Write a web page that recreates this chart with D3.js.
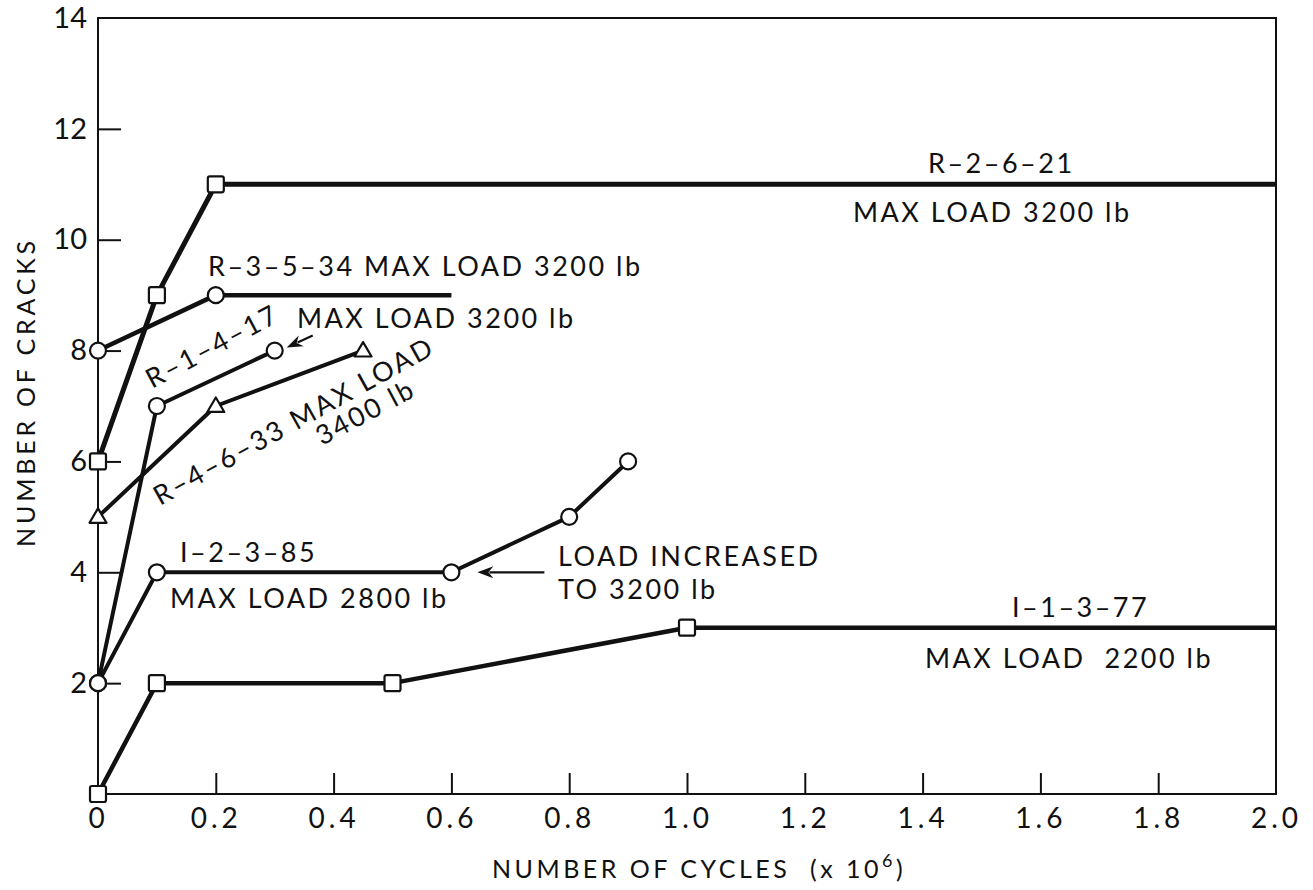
<!DOCTYPE html>
<html>
<head>
<meta charset="utf-8">
<script src="https://cdn.jsdelivr.net/npm/d3@7"></script>
<style>
  html, body { margin: 0; padding: 0; background: #fff; }
  svg { display: block; }
  text { font-family: Lato, "Noto Sans", sans-serif; fill: #111; }
</style>
</head>
<body>
<svg id="chart" width="1313" height="890"></svg>
<script>
// Crack counts against load cycles (millions) for six specimens.
const xTicks = [0, 0.2, 0.4, 0.6, 0.8, 1.0, 1.2, 1.4, 1.6, 1.8, 2.0];
const yTicks = [2, 4, 6, 8, 10, 12, 14];

// R-2-6-21, square markers; the run continues flat to 2.0 without a marker
const cyclesR2621 = [0, 0.1, 0.2, 2.0];
const cracksR2621 = [6, 9, 11, 11];
const markedR2621 = [true, true, true, false];

// R-3-5-34, circle markers; flat run to 0.6
const cyclesR3534 = [0, 0.2, 0.6];
const cracksR3534 = [8, 9, 9];
const markedR3534 = [true, true, false];

// R-1-4-17, circle markers
const cyclesR1417 = [0, 0.1, 0.3];
const cracksR1417 = [2, 7, 8];
const markedR1417 = [true, true, true];

// R-4-6-33, triangle markers
const cyclesR4633 = [0, 0.2, 0.45];
const cracksR4633 = [5, 7, 8];
const markedR4633 = [true, true, true];

// I-2-3-85, circle markers (load raised at 0.6)
const cyclesI2385 = [0, 0.1, 0.6, 0.8, 0.9];
const cracksI2385 = [2, 4, 4, 5, 6];
const markedI2385 = [true, true, true, true, true];

// I-1-3-77, square markers; flat run to 2.0
const cyclesI1377 = [0, 0.1, 0.5, 1.0, 2.0];
const cracksI1377 = [0, 2, 2, 3, 3];
const markedI1377 = [true, true, true, true, false];

const series = [
  { cycles: cyclesR2621, cracks: cracksR2621, marked: markedR2621, marker: "square",   width: 5 },
  { cycles: cyclesR3534, cracks: cracksR3534, marked: markedR3534, marker: "circle",   width: 4.5 },
  { cycles: cyclesR1417, cracks: cracksR1417, marked: markedR1417, marker: "circle",   width: 4 },
  { cycles: cyclesR4633, cracks: cracksR4633, marked: markedR4633, marker: "triangle", width: 4 },
  { cycles: cyclesI2385, cracks: cracksI2385, marked: markedI2385, marker: "circle",   width: 4 },
  { cycles: cyclesI1377, cracks: cracksI1377, marked: markedI1377, marker: "square",   width: 4.5 }
];

const svg = d3.select("#chart");
const plotLeft = 98, plotRight = 1276, plotTop = 18, plotBottom = 794;

const x = d3.scaleLinear().domain([0, 2]).range([plotLeft, plotRight]);
const y = d3.scaleLinear().domain([0, 14]).range([plotBottom, plotTop]);

// frame
svg.append("rect")
  .attr("x", plotLeft).attr("y", plotTop)
  .attr("width", plotRight - plotLeft).attr("height", plotBottom - plotTop)
  .attr("fill", "none").attr("stroke", "#111").attr("stroke-width", 2);

// x axis with inward ticks
const xAxis = d3.axisBottom(x)
  .tickValues(xTicks)
  .tickSizeInner(-21).tickSizeOuter(0).tickPadding(14)
  .tickFormat(d => d === 0 ? "0" : d3.format(".1f")(d));
const gx = svg.append("g").attr("transform", `translate(0,${plotBottom})`).call(xAxis);
gx.select(".domain").remove();
gx.selectAll(".tick line").attr("stroke", "#111").attr("stroke-width", 2)
  .filter(d => d === 0 || d === 2).remove();
gx.selectAll(".tick text")
  .attr("font-family", "Lato, 'Noto Sans', sans-serif")
  .attr("font-size", 28).attr("letter-spacing", "4px").attr("fill", "#111");

// y axis with inward ticks
const yAxis = d3.axisLeft(y)
  .tickValues(yTicks)
  .tickSizeInner(-23).tickSizeOuter(0).tickPadding(11);
const gy = svg.append("g").attr("transform", `translate(${plotLeft},0)`).call(yAxis);
gy.select(".domain").remove();
gy.selectAll(".tick line").attr("stroke", "#111").attr("stroke-width", 2)
  .filter(d => d === 14).remove();
gy.selectAll(".tick text")
  .attr("font-family", "Lato, 'Noto Sans', sans-serif")
  .attr("font-size", 29).attr("fill", "#111");

// axis titles
const xTitle = svg.append("text")
  .attr("x", 492).attr("y", 878)
  .attr("font-size", 25).attr("letter-spacing", "3.5px")
  .attr("xml:space", "preserve");
xTitle.append("tspan").text("NUMBER OF CYCLES  (x 10");
xTitle.append("tspan").attr("dy", -11).attr("font-size", 18).text("6");
xTitle.append("tspan").attr("dy", 11).text(")");

svg.append("text")
  .attr("transform", "translate(35,392) rotate(-90)")
  .attr("text-anchor", "middle")
  .attr("font-size", 25).attr("letter-spacing", "3.8px")
  .text("NUMBER OF CRACKS");

// data lines
const line = d3.line().x(d => x(d[0])).y(d => y(d[1]));
series.forEach(s => {
  const pts = s.cycles.map((c, i) => [c, s.cracks[i]]);
  svg.append("path")
    .attr("d", line(pts))
    .attr("fill", "none").attr("stroke", "#111")
    .attr("stroke-width", s.width)
    .attr("stroke-linejoin", "round").attr("stroke-linecap", "butt");
});

// markers
const markerLayer = svg.append("g")
  .attr("fill", "#fff").attr("stroke", "#111").attr("stroke-width", 2.2);
series.forEach(s => {
  s.cycles.forEach((c, i) => {
    if (!s.marked[i]) return;
    const px = x(c), py = y(s.cracks[i]);
    if (s.marker === "square") {
      markerLayer.append("rect")
        .attr("x", px - 8).attr("y", py - 8)
        .attr("width", 16).attr("height", 16).attr("rx", 2);
    } else if (s.marker === "circle") {
      markerLayer.append("circle").attr("cx", px).attr("cy", py).attr("r", 8);
    } else {
      const h = 8.5;
      markerLayer.append("path")
        .attr("d", `M${px},${py - h}L${px + h},${py + h * 0.7}L${px - h},${py + h * 0.7}Z`)
        .attr("stroke-linejoin", "round");
    }
  });
});

// annotations
const labels = [
  { t: "R\u20132\u20136\u201321", x: 928, y: 173 },
  { t: "MAX LOAD 3200 lb", x: 853, y: 222 },
  { t: "R\u20133\u20135\u201334 MAX LOAD 3200 lb", x: 208, y: 276 },
  { t: "MAX LOAD 3200 lb", x: 297, y: 328 },
  { t: "I\u20132\u20133\u201385", x: 180, y: 562 },
  { t: "MAX LOAD 2800 lb", x: 170, y: 608 },
  { t: "LOAD INCREASED", x: 558, y: 566 },
  { t: "TO 3200 lb", x: 558, y: 599 },
  { t: "I\u20131\u20133\u201377", x: 1012, y: 617 },
  { t: "MAX LOAD  2200 lb", x: 925, y: 668 }
];
labels.forEach(l => {
  svg.append("text").attr("x", l.x).attr("y", l.y)
    .attr("font-size", 27).attr("letter-spacing", "2.5px")
    .attr("xml:space", "preserve")
    .text(l.t);
});

const rotated = [
  { t: "R\u20131\u20134\u201317", x: 152, y: 389, a: -28 },
  { t: "R\u20134\u20136\u201333 MAX LOAD", x: 160, y: 506, a: -29 },
  { t: "3400 lb", x: 322, y: 446, a: -28 }
];
rotated.forEach(l => {
  svg.append("text")
    .attr("transform", `translate(${l.x},${l.y}) rotate(${l.a})`)
    .attr("font-size", 27).attr("letter-spacing", "2.5px")
    .text(l.t);
});

// arrows pointing to the marked points
function arrow(x1, y1, x2, y2) {
  const ang = Math.atan2(y2 - y1, x2 - x1);
  const L = 16, W = 6;
  const bx = x2 - L * Math.cos(ang), by = y2 - L * Math.sin(ang);
  const nx = -Math.sin(ang) * W, ny = Math.cos(ang) * W;
  svg.append("line")
    .attr("x1", x1).attr("y1", y1).attr("x2", bx + 4 * Math.cos(ang)).attr("y2", by + 4 * Math.sin(ang))
    .attr("stroke", "#111").attr("stroke-width", 2.2);
  svg.append("path")
    .attr("d", `M${x2},${y2}L${bx + nx},${by + ny}L${bx + 5 * Math.cos(ang)},${by + 5 * Math.sin(ang)}L${bx - nx},${by - ny}Z`)
    .attr("fill", "#111");
}
arrow(x(0.3) + 38, y(8) - 15, x(0.3) + 12, y(8) - 3);
arrow(x(0.6) + 93, y(4), x(0.6) + 26, y(4));
</script>
</body>
</html>
